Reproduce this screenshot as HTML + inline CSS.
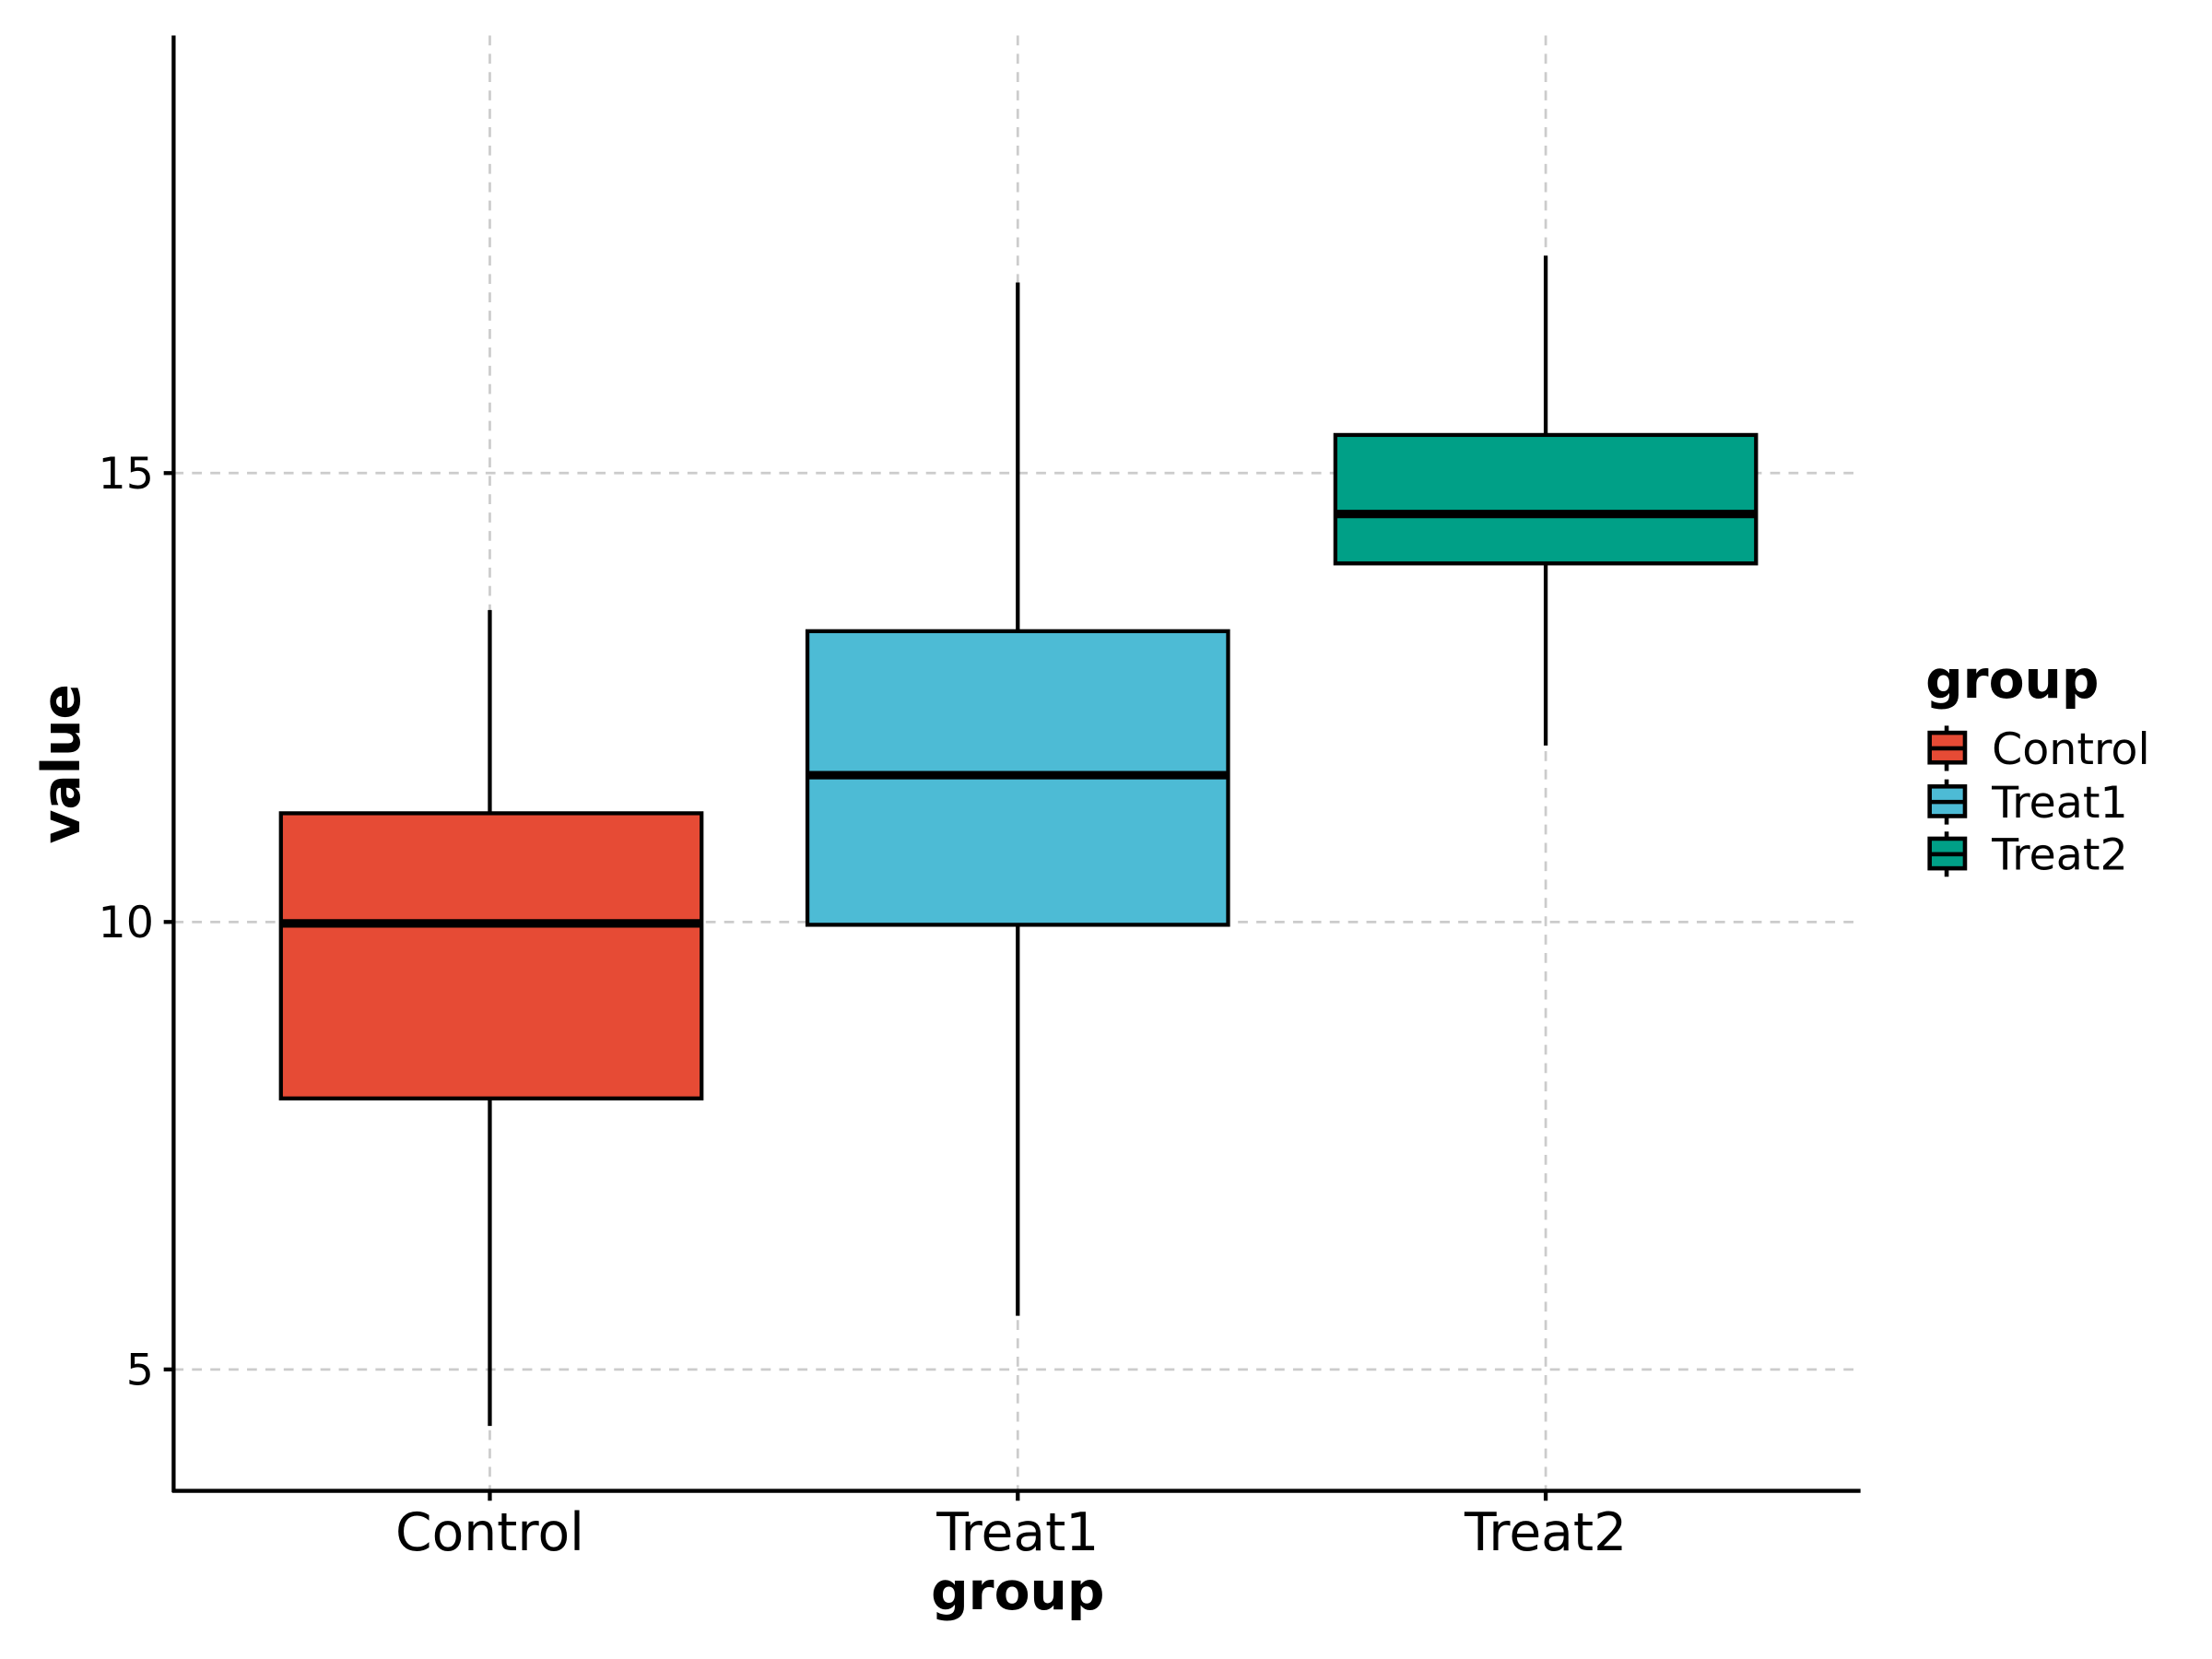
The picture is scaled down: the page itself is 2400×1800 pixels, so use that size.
<!DOCTYPE html>
<html><head><meta charset="utf-8"><style>html,body{margin:0;padding:0;background:#fff}svg{display:block}</style></head>
<body>
<svg width="2400" height="1800" viewBox="0 0 1567 1175" xmlns="http://www.w3.org/2000/svg" font-family="DejaVu Sans, Liberation Sans, sans-serif">
<rect width="1567" height="1175" fill="#fff"/>
<g stroke="#cccccc" stroke-width="1.8" stroke-dasharray="7,6" fill="none">
<line x1="123" y1="335" x2="1318" y2="335"/>
<line x1="123" y1="653" x2="1318" y2="653"/>
<line x1="123" y1="970" x2="1318" y2="970"/>
<line x1="347" y1="25" x2="347" y2="1056"/>
<line x1="721" y1="25" x2="721" y2="1056"/>
<line x1="1095" y1="25" x2="1095" y2="1056"/>
</g>
<g stroke="#000" stroke-width="2.8">
<line x1="347" y1="432" x2="347" y2="576"/><line x1="347" y1="778" x2="347" y2="1010"/>
<line x1="721" y1="200" x2="721" y2="447"/><line x1="721" y1="655" x2="721" y2="932"/>
<line x1="1095" y1="181" x2="1095" y2="308"/><line x1="1095" y1="399" x2="1095" y2="528"/>
<rect x="199" y="576" width="298" height="202" fill="#e64b35"/>
<rect x="572" y="447" width="298" height="208" fill="#4dbbd5"/>
<rect x="946" y="308" width="298" height="91" fill="#00a087"/>
</g>
<g stroke="#000" stroke-width="6">
<line x1="199" y1="654" x2="497" y2="654"/>
<line x1="572" y1="549" x2="870" y2="549"/>
<line x1="946" y1="364" x2="1244" y2="364"/>
</g>
<g stroke="#000" stroke-width="2.8">
<line x1="123" y1="25" x2="123" y2="1057"/>
<line x1="122" y1="1056" x2="1318" y2="1056"/>
<line x1="116" y1="335" x2="123" y2="335"/><line x1="116" y1="653" x2="123" y2="653"/><line x1="116" y1="970" x2="123" y2="970"/>
<line x1="347" y1="1056" x2="347" y2="1063"/><line x1="721" y1="1056" x2="721" y2="1063"/><line x1="1095" y1="1056" x2="1095" y2="1063"/>
</g>
<g font-size="31" text-anchor="end" fill="#000">
<text x="109" y="346">15</text><text x="109" y="664">10</text><text x="109" y="981">5</text>
</g>
<g font-size="37" text-anchor="middle" fill="#000">
<text x="347" y="1098">Control</text><text x="721" y="1098">Treat1</text><text x="1095" y="1098">Treat2</text>
<text x="721" y="1140" font-weight="bold">group</text>
<text transform="translate(56,541) rotate(-90)" font-weight="bold">value</text>
</g>
<text x="1364" y="494" font-size="37" font-weight="bold">group</text>
<g stroke="#000" stroke-width="3">
<line x1="1379" y1="514" x2="1379" y2="546"/><rect x="1367" y="519" width="25" height="21" fill="#e64b35"/><line x1="1367" y1="530" x2="1392" y2="530"/>
<line x1="1379" y1="552" x2="1379" y2="584"/><rect x="1367" y="557" width="25" height="21" fill="#4dbbd5"/><line x1="1367" y1="568" x2="1392" y2="568"/>
<line x1="1379" y1="589" x2="1379" y2="621"/><rect x="1367" y="594" width="25" height="21" fill="#00a087"/><line x1="1367" y1="605" x2="1392" y2="605"/>
</g>
<g font-size="31" fill="#000">
<text x="1411" y="541">Control</text><text x="1411" y="579">Treat1</text><text x="1411" y="616">Treat2</text>
</g>
</svg>
</body></html>
